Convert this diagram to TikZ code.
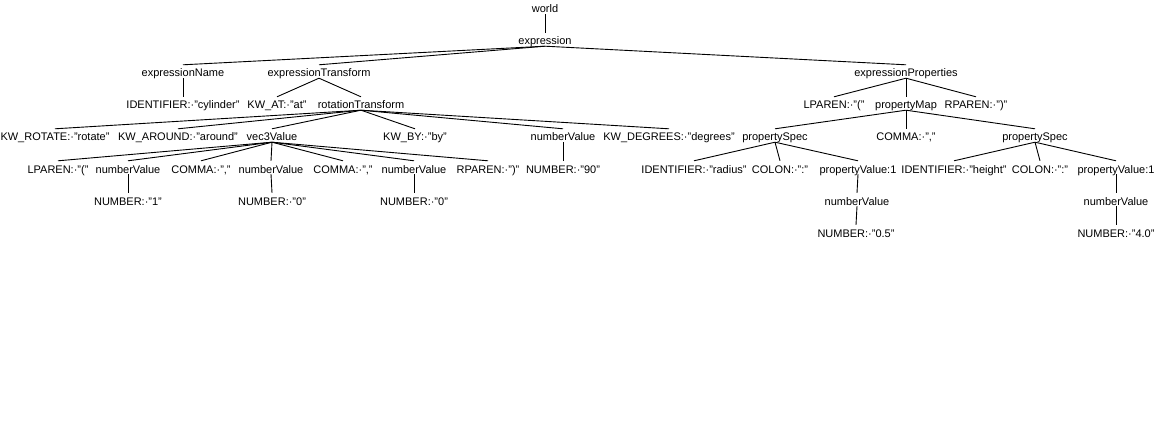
\documentclass[tikz,border=0pt]{standalone}
\usepackage{fontspec}
\setmainfont{Liberation Sans}
\usepackage{xcolor}
\definecolor{treeink}{HTML}{000000}

\begin{document}
\begin{tikzpicture}[x=1pt, y=-1pt,
  tok/.style={inner sep=0pt, text height=12pt, text depth=1pt, anchor=base,
    text=treeink, font=\fontsize{11}{13}\selectfont},
  edge/.style={draw=treeink, line width=0.9pt}]

  % Canvas
  \fill[white] (0,0) rectangle (1159,433);
  \useasboundingbox (0,0) rectangle (1159,433);

  % ==================== LEVELS 0-2 ====================
  \node[tok] (world) at (545,13) {world};
  \node[tok] (expr) at (545,45) {expression};

  \node[tok] (exprName) at (183,77) {expressionName};
  \node[tok] (exprTrans) at (319,77) {expressionTransform};
  \node[tok] (exprProps) at (906,77) {expressionProperties};

  % ==================== LEVEL 3 ====================
  \node[tok] (idCyl) at (183,109) {IDENTIFIER:·"cylinder"};
  \node[tok] (kwAt) at (277,109) {KW\_AT:·"at"};
  \node[tok] (rotTrans) at (361,109) {rotationTransform};
  \node[tok] (lparenP) at (834,109) {LPAREN:·"("};
  \node[tok] (propMap) at (906,109) {propertyMap};
  \node[tok] (rparenP) at (976,109) {RPAREN:·")"};

  % ==================== LEVEL 4 ====================
  \node[tok] (kwRotate) at (55,141) {KW\_ROTATE:·"rotate"};
  \node[tok] (kwAround) at (178,141) {KW\_AROUND:·"around"};
  \node[tok] (vecVal) at (272,141) {vec3Value};
  \node[tok] (kwBy) at (415,141) {KW\_BY:·"by"};
  \node[tok] (nvDeg) at (563,141) {numberValue};
  \node[tok] (kwDeg) at (669,141) {KW\_DEGREES:·"degrees"};
  \node[tok] (specR) at (775,141) {propertySpec};
  \node[tok] (commaP) at (906,141) {COMMA:·","};
  \node[tok] (specH) at (1035,141) {propertySpec};

  % ==================== LEVEL 5 ====================
  \node[tok] (lparenV) at (58,173) {LPAREN:·"("};
  \node[tok] (nvX) at (128,173) {numberValue};
  \node[tok] (commaA) at (201,173) {COMMA:·","};
  \node[tok] (nvY) at (271,173) {numberValue};
  \node[tok] (commaB) at (343,173) {COMMA:·","};
  \node[tok] (nvZ) at (414,173) {numberValue};
  \node[tok] (rparenV) at (488,173) {RPAREN:·")"};
  \node[tok] (numDeg) at (563,173) {NUMBER:·"90"};
  \node[tok] (idRad) at (694,173) {IDENTIFIER:·"radius"};
  \node[tok] (colonR) at (780,173) {COLON:·":"};
  \node[tok] (valR) at (858,173) {propertyValue:1};
  \node[tok] (idHgt) at (954,173) {IDENTIFIER:·"height"};
  \node[tok] (colonH) at (1040,173) {COLON:·":"};
  \node[tok] (valH) at (1116,173) {propertyValue:1};

  % ==================== LEVELS 6-7 ====================
  \node[tok] (numX) at (128,205) {NUMBER:·"1"};
  \node[tok] (numY) at (272,205) {NUMBER:·"0"};
  \node[tok] (numZ) at (414,205) {NUMBER:·"0"};
  \node[tok] (nvR) at (857,205) {numberValue};
  \node[tok] (nvH) at (1116,205) {numberValue};

  \node[tok] (numR) at (856,237) {NUMBER:·"0.5"};
  \node[tok] (numH) at (1116,237) {NUMBER:·"4.0"};

  % ==================== EDGES ====================
  \foreach \p/\c in {world/expr, expr/exprName, expr/exprTrans, expr/exprProps,
      exprName/idCyl, exprTrans/kwAt, exprTrans/rotTrans,
      exprProps/lparenP, exprProps/propMap, exprProps/rparenP,
      rotTrans/kwRotate, rotTrans/kwAround, rotTrans/vecVal, rotTrans/kwBy,
      rotTrans/nvDeg, rotTrans/kwDeg,
      propMap/specR, propMap/commaP, propMap/specH,
      vecVal/lparenV, vecVal/nvX, vecVal/commaA, vecVal/nvY, vecVal/commaB,
      vecVal/nvZ, vecVal/rparenV, nvDeg/numDeg,
      specR/idRad, specR/colonR, specR/valR,
      specH/idHgt, specH/colonH, specH/valH,
      nvX/numX, nvY/numY, nvZ/numZ, valR/nvR, valH/nvH,
      nvR/numR, nvH/numH} {
    \draw[edge] (\p.south) -- (\c.north);
  }

\end{tikzpicture}
\end{document}
